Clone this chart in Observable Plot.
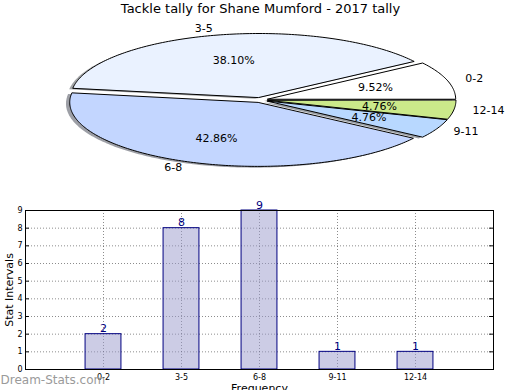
<!DOCTYPE html>
<html>
<head>
<meta charset="utf-8">
<script src="https://cdn.jsdelivr.net/npm/d3@7"></script>
<script src="https://cdn.jsdelivr.net/npm/@observablehq/plot@0.6"></script>
<style>
  html, body { margin: 0; padding: 0; background: #fff; width: 520px; height: 390px; overflow: hidden; }
  svg { display: block; }
</style>
</head>
<body>
<div id="pie"></div>
<div id="bar"></div>
<script>
// ---- data ----
const title = "Tackle tally for Shane Mumford - 2017 tally";
const categories = ["0-2", "3-5", "6-8", "9-11", "12-14"];
const counts = [2, 8, 9, 1, 1];
const sliceColors = ["#ffffff", "#eaf2ff", "#c3d6ff", "#b8d8ff", "#cbe98a"];
const yTicks = [0, 1, 2, 3, 4, 5, 6, 7, 8, 9];
const barPositions = [1, 2, 3, 4, 5];
const xLabel = "Frequency";
const yLabel = "Stat Intervals";
const watermark = "Dream-Stats.com";

// ---- pie geometry (matplotlib-like, squashed) ----
const FONT = "DejaVu Sans";
const EXPLODE = 0.04;
const SHADOW = 0.02;
const total = d3.sum(counts);
let acc = 0;
const slices = categories.map((c, i) => {
  const t1 = acc / total * 360;
  acc += counts[i];
  const t2 = acc / total * 360;
  const m = (t1 + t2) / 2 * Math.PI / 180;
  return {
    key: c, i, t1, t2, m,
    cx: EXPLODE * Math.cos(m), cy: EXPLODE * Math.sin(m),
    color: sliceColors[i],
    pct: (counts[i] / total * 100).toFixed(2) + "%"
  };
});
function wedgePoints(s, dx, dy, color) {
  const pts = [{key: s.key, x: s.cx + dx, y: s.cy + dy, color}];
  const n = Math.max(2, Math.ceil(s.t2 - s.t1));
  for (let k = 0; k <= n; k++) {
    const a = (s.t1 + (s.t2 - s.t1) * k / n) * Math.PI / 180;
    pts.push({key: s.key, x: s.cx + dx + Math.cos(a), y: s.cy + dy + Math.sin(a), color});
  }
  return pts;
}
const wedges = slices.flatMap(s => wedgePoints(s, 0, 0, s.color));
const shadows = slices.flatMap(s => {
  const c = d3.rgb(s.color);
  const sc = d3.rgb(c.r * 0.3, c.g * 0.3, c.b * 0.3).formatHex();
  return wedgePoints(s, -SHADOW, -SHADOW, sc);
});
const pctLabels = slices.map(s => ({text: s.pct, x: s.cx + 0.6 * Math.cos(s.m), y: s.cy + 0.6 * Math.sin(s.m)}));
const catLabels = slices.map(s => ({text: s.key, x: s.cx + 1.1 * Math.cos(s.m), y: s.cy + 1.1 * Math.sin(s.m), right: Math.cos(s.m) >= 0}));

const RX = 188, RY = 64, CX = 260, CY = 99.5, PH = 190;
const pie = Plot.plot({
  width: 520, height: PH,
  margin: 0,
  style: {fontFamily: FONT, background: "white"},
  x: {domain: [-CX / RX, (520 - CX) / RX], axis: null},
  y: {domain: [(CY - PH) / RY, CY / RY], axis: null},
  color: {type: "identity"},
  marks: [
    Plot.line(shadows, {x: "x", y: "y", z: "key", fill: "color", stroke: "none", fillOpacity: 0.5, curve: "linear-closed"}),
    Plot.line(wedges, {x: "x", y: "y", z: "key", fill: "color", stroke: "black", strokeWidth: 1, curve: "linear-closed"}),
    Plot.text(pctLabels, {x: "x", y: "y", text: "text", fontSize: 11, fill: "black"}),
    Plot.text(catLabels.filter(d => d.right), {x: "x", y: "y", text: "text", textAnchor: "start", fontSize: 11, fill: "black"}),
    Plot.text(catLabels.filter(d => !d.right), {x: "x", y: "y", text: "text", textAnchor: "end", fontSize: 11, fill: "black"}),
    Plot.text([title], {frameAnchor: "top", lineAnchor: "top", dy: 3, fontSize: 13, fill: "black"})
  ]
});
document.getElementById("pie").appendChild(pie);

// ---- bar chart ----
const bars = categories.map((c, i) => ({cat: c, pos: barPositions[i], count: counts[i]}));
const BW = 0.46;
const bar = Plot.plot({
  width: 520, height: 200,
  marginLeft: 25, marginRight: 27, marginTop: 20, marginBottom: 21,
  style: {fontFamily: FONT, fontSize: "8px", background: "white", overflow: "visible"},
  x: {domain: [0, 6], ticks: barPositions, tickFormat: p => categories[p - 1], tickSize: 0, tickPadding: 5, label: null},
  y: {domain: [0, 9], ticks: yTicks, tickSize: 0, tickPadding: 3, label: null},
  marks: [
    Plot.ruleY(yTicks.slice(1, -1), {stroke: "black", strokeOpacity: 0.45, strokeDasharray: "1,2"}),
    Plot.ruleX(barPositions, {stroke: "black", strokeOpacity: 0.45, strokeDasharray: "1,2"}),
    Plot.rectY(bars, {x1: d => d.pos - BW / 2, x2: d => d.pos + BW / 2, y1: 0, y2: "count", fill: "#9999cc", fillOpacity: 0.5, stroke: "#000080", strokeWidth: 1}),
    Plot.ruleY(yTicks, {x1: 0, x2: 0.05, stroke: "black"}),
    Plot.ruleY(yTicks, {x1: 5.95, x2: 6, stroke: "black"}),
    Plot.frame({stroke: "black"}),
    Plot.text(bars, {x: "pos", y: "count", text: d => String(d.count), lineAnchor: "bottom", dy: -2, fontSize: 11, fill: "#000080"}),
    Plot.text([yLabel], {frameAnchor: "left", textAnchor: "middle", rotate: -90, dx: -16, fontSize: 11, fill: "black"}),
    Plot.text([xLabel], {frameAnchor: "bottom", lineAnchor: "top", dy: 15, fontSize: 11, fill: "black"}),
    Plot.text([watermark], {frameAnchor: "bottom-left", textAnchor: "start", lineAnchor: "middle", dx: -25, dy: 11, fontSize: 12, fill: "#9a9a9a"})
  ]
});
document.getElementById("bar").appendChild(bar);
</script>
</body>
</html>
